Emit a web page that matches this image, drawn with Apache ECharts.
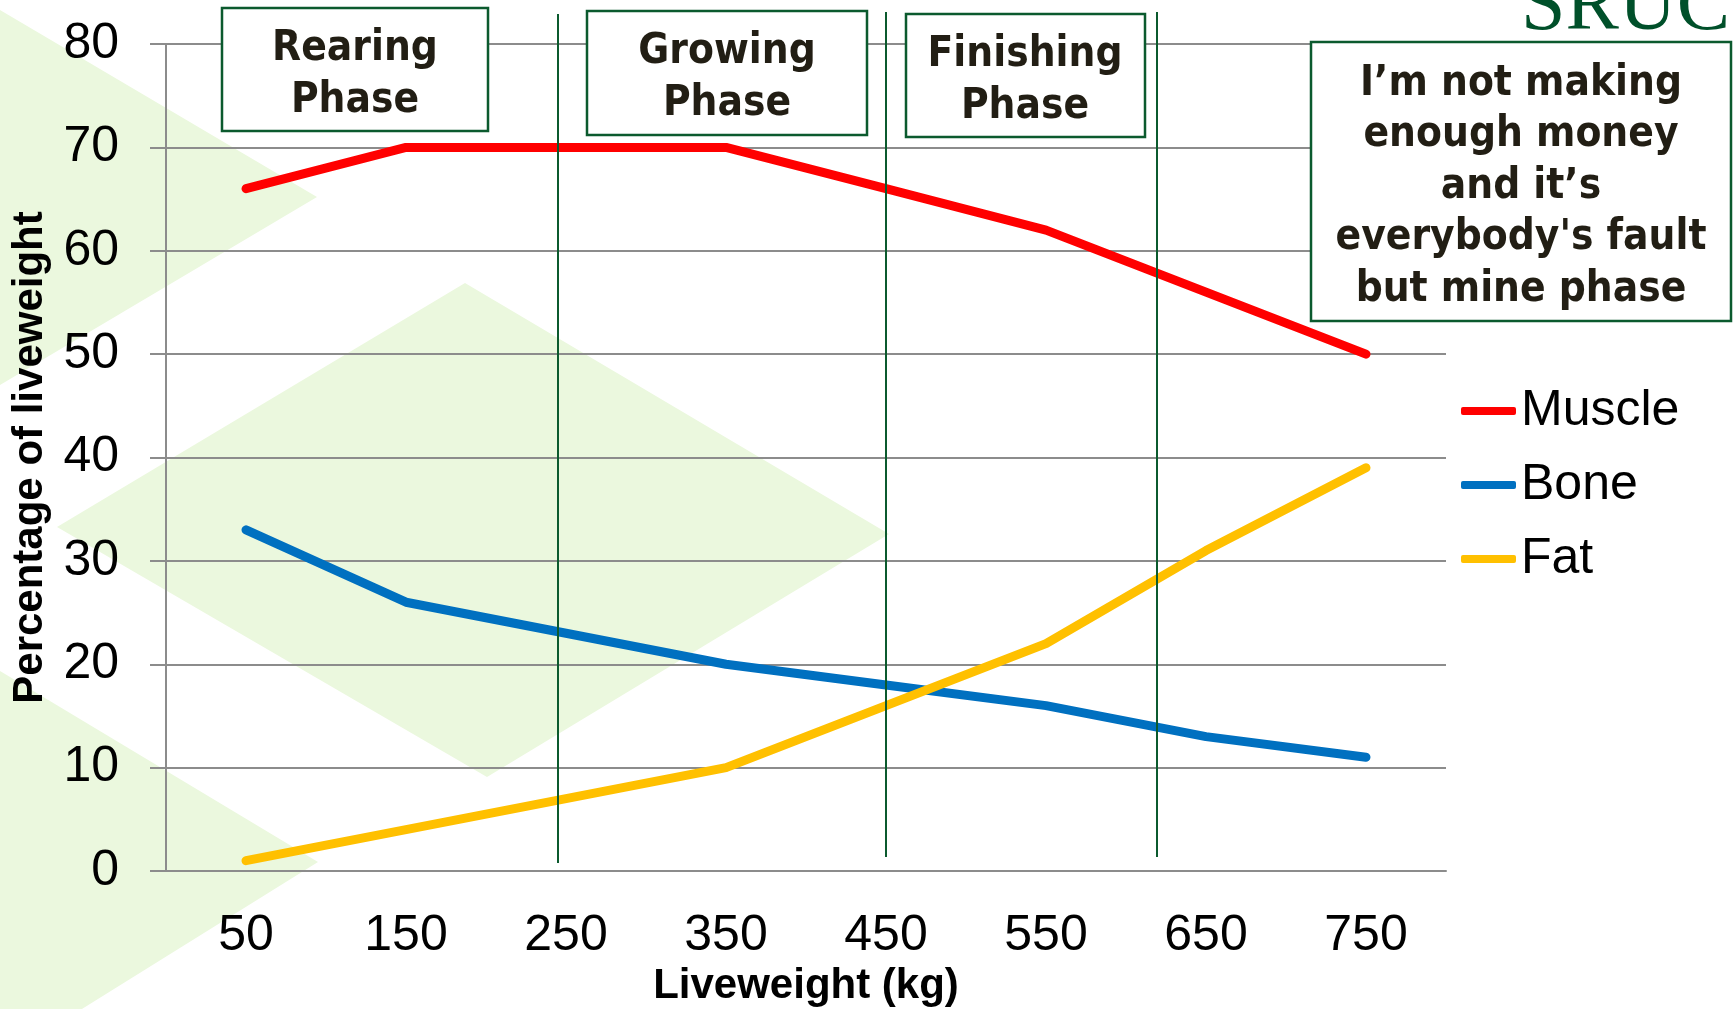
<!DOCTYPE html>
<html>
<head>
<meta charset="utf-8">
<title>Carcass composition by liveweight</title>
<script src="https://cdn.jsdelivr.net/npm/echarts@6/dist/echarts.min.js"></script>
<style>
  html, body { margin: 0; padding: 0; background: #fff; }
  #chart { width: 1733px; height: 1009px; }
</style>
</head>
<body>
<div id="chart"></div>
<script>
// liveweight categories (kg)
const weights = ['50', '150', '250', '350', '450', '550', '650', '750'];
// percentage of liveweight
const muscle = [66, 70, 70, 70, 66, 62, 56, 50];
const bone = [33, 26, 23, 20, 18, 16, 13, 11];
const fat = [1, 4, 7, 10, 16, 22, 31, 39];
const phaseLabels = ['Rearing\nPhase', 'Growing\nPhase', 'Finishing\nPhase'];
const noteLabel = 'I\u2019m not making\nenough money\nand it\u2019s\neverybody\'s fault\nbut mine phase';

const GREEN = '#0b5a2e';
const PALE = '#ebf8de';
const GRID = '#8c8c8c';
const INK = '#221e14';
const boxFont = '"DejaVu Sans Condensed", "Liberation Sans", sans-serif';

const chart = echarts.init(document.getElementById('chart'), null, { renderer: 'canvas' });

// background shapes, phase dividers and boxes (decoration only)
function box(x, y, w, h, text, cx, cy, lh) {
  return [
    { type: 'rect', z: 20, shape: { x: x, y: y, width: w, height: h },
      style: { fill: '#fff', stroke: GREEN, lineWidth: 2.5 } },
    { type: 'text', z: 21, x: cx, y: cy,
      style: { text: text, fill: INK, fontSize: 42, fontWeight: 'bold', fontFamily: boxFont,
               align: 'center', verticalAlign: 'middle', lineHeight: lh } }
  ];
}

const graphics = [
  { type: 'polygon', z: -5, shape: { points: [[0, 10], [317, 197], [0, 385]] }, style: { fill: PALE } },
  { type: 'polygon', z: -5, shape: { points: [[57, 527], [465, 283], [889, 534], [487, 777]] }, style: { fill: PALE } },
  { type: 'polygon', z: -5, shape: { points: [[0, 671], [318, 862], [0, 1060]] }, style: { fill: PALE } },
  { type: 'line', z: 15, shape: { x1: 558, y1: 14, x2: 558, y2: 863 }, style: { stroke: GREEN, lineWidth: 2 } },
  { type: 'line', z: 15, shape: { x1: 886, y1: 12, x2: 886, y2: 857 }, style: { stroke: GREEN, lineWidth: 2 } },
  { type: 'line', z: 15, shape: { x1: 1157, y1: 12, x2: 1157, y2: 857 }, style: { stroke: GREEN, lineWidth: 2 } },
  { type: 'text', z: 21, x: 1521, y: 8,
    style: { text: 'SRUC', fill: '#00502a', fontSize: 80, fontFamily: '"Liberation Serif", serif',
             align: 'left', verticalAlign: 'middle' } }
]
  .concat(box(222, 8, 266, 123, phaseLabels[0], 355, 75, 52))
  .concat(box(587, 11, 280, 124, phaseLabels[1], 727, 78, 52))
  .concat(box(906, 14, 239, 123, phaseLabels[2], 1025, 81, 52))
  .concat(box(1311, 42, 420, 279, noteLabel, 1521, 187, 51.5));

function lineSeries(name, data, color) {
  return {
    name: name,
    type: 'line',
    data: data,
    showSymbol: false,
    symbol: 'none',
    color: color,
    lineStyle: { width: 9, color: color, cap: 'round', join: 'round' },
    emphasis: { disabled: true }
  };
}

chart.setOption({
  animation: false,
  textStyle: { fontFamily: '"Liberation Sans", Arial, sans-serif' },
  grid: { left: 166, right: 287, top: 44, bottom: 138, containLabel: false, outerBoundsMode: 'none' },
  legend: {
    orient: 'vertical',
    left: 1456,
    top: 381,
    itemWidth: 55,
    itemHeight: 8,
    itemGap: 24,
    itemTextGap: 6,
    icon: 'roundRect',
    textStyle: { fontSize: 50, color: '#000', lineHeight: 50 },
    data: ['Muscle', 'Bone', 'Fat']
  },
  xAxis: {
    type: 'category',
    data: weights,
    boundaryGap: true,
    name: 'Liveweight (kg)',
    nameLocation: 'middle',
    nameGap: 93,
    nameTextStyle: { fontSize: 42, fontWeight: 'bold', color: '#000' },
    axisLine: { lineStyle: { color: GRID, width: 2 } },
    axisTick: { show: false },
    axisLabel: { fontSize: 50, color: '#000', margin: 40 },
    splitLine: { show: false }
  },
  yAxis: {
    type: 'value',
    min: 0,
    max: 80,
    interval: 10,
    name: 'Percentage of liveweight',
    nameLocation: 'middle',
    nameGap: 115,
    nameTextStyle: { fontSize: 42, fontWeight: 'bold', color: '#000' },
    axisLine: { show: true, lineStyle: { color: GRID, width: 2 } },
    axisTick: { show: true, length: 16, lineStyle: { color: GRID, width: 2 } },
    axisLabel: { fontSize: 50, color: '#000', margin: 47 },
    splitLine: { lineStyle: { color: GRID, width: 2 } }
  },
  series: [
    lineSeries('Muscle', muscle, '#ff0000'),
    lineSeries('Bone', bone, '#0070c0'),
    lineSeries('Fat', fat, '#ffc000')
  ],
  graphic: graphics
});
</script>
</body>
</html>
